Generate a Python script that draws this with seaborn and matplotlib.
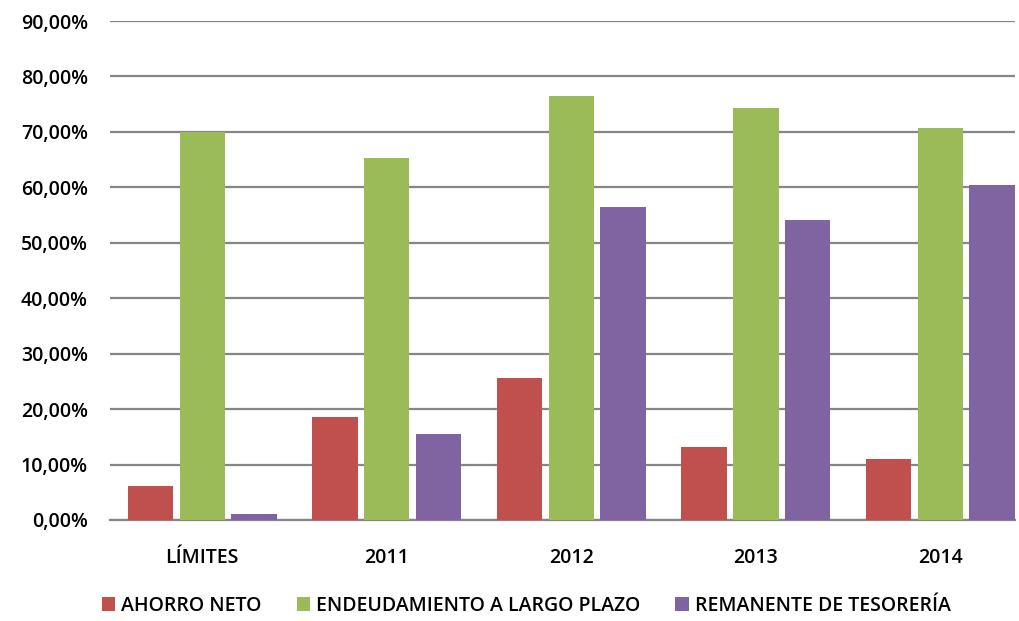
import numpy as np
import pandas as pd
import matplotlib
matplotlib.use("Agg")
import matplotlib.pyplot as plt
import seaborn as sns
from matplotlib.ticker import FuncFormatter

categories = ["LÍMITES", "2011", "2012", "2013", "2014"]
series_names = ["AHORRO NETO", "ENDEUDAMIENTO A LARGO PLAZO", "REMANENTE DE TESORERÍA"]
ahorro_neto = [6.2, 18.6, 25.6, 13.2, 11.0]
endeudamiento = [70.0, 65.3, 76.5, 74.3, 70.7]
remanente = [1.0, 15.5, 56.5, 54.1, 60.4]
colors = ["#C0504D", "#9BBB59", "#8064A2"]

df = pd.DataFrame({
    "cat": categories * 3,
    "serie": sum([[s] * len(categories) for s in series_names], []),
    "valor": ahorro_neto + endeudamiento + remanente,
})

sns.set_style("white")
plt.rcParams["font.family"] = ["Open Sans", "DejaVu Sans"]
plt.rcParams["text.color"] = "black"
plt.rcParams["xtick.color"] = "black"
plt.rcParams["ytick.color"] = "black"

fig = plt.figure(figsize=(10.19, 6.21), dpi=100)
ax = fig.add_axes([110 / 1019, 1 - 520 / 621, 905 / 1019, 499 / 621])

sns.barplot(data=df, x="cat", y="valor", hue="serie", palette=colors,
            width=0.84, gap=0.12, saturation=1, linewidth=0, ax=ax, zorder=3)

ax.set_ylim(0, 90)
ax.set_yticks(np.arange(0, 91, 10))
ax.yaxis.set_major_formatter(FuncFormatter(lambda v, p: f"{v:.2f}%".replace(".", ",")))
ax.grid(axis="y", color="#868686", linewidth=1.6, zorder=0)
ax.set_axisbelow(True)
for s in ["top", "right", "left"]:
    ax.spines[s].set_visible(False)
ax.spines["bottom"].set_color("#868686")
ax.spines["bottom"].set_linewidth(1.6)
ax.tick_params(axis="y", length=0, pad=16, labelsize=14)
ax.tick_params(axis="x", length=0, pad=20, labelsize=14)
for lbl in ax.get_xticklabels() + ax.get_yticklabels():
    lbl.set_fontweight("semibold")
ax.set_xlabel("")
ax.set_ylabel("")
ax.set_xlim(-0.5, 4.405)

leg = ax.legend(loc="upper center", bbox_to_anchor=(0.46, -0.128), ncol=3, frameon=False,
                fontsize=14, handlelength=0.7, handleheight=0.7, handletextpad=0.3,
                columnspacing=1.8, borderaxespad=0.2)
for t in leg.get_texts():
    t.set_fontweight("semibold")

fig.savefig("out.png", dpi=100)
